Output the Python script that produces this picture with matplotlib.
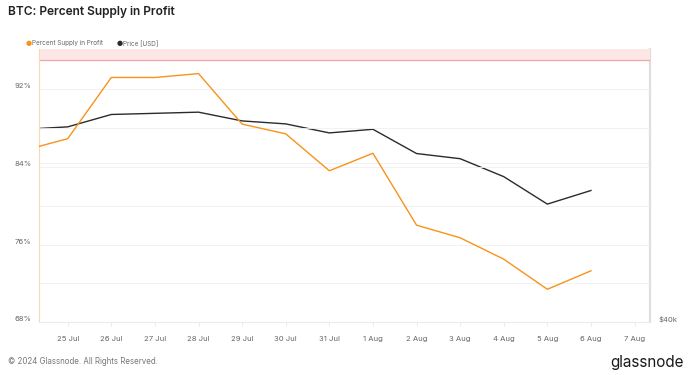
import pandas as pd
import matplotlib
matplotlib.use("Agg")
from matplotlib import pyplot as plt
from matplotlib.ticker import FixedLocator, NullLocator

plt.rcParams['font.family'] = ['Inter', 'DejaVu Sans']

dates = ["2024-07-24", "2024-07-25", "2024-07-26", "2024-07-27", "2024-07-28",
         "2024-07-29", "2024-07-30", "2024-07-31", "2024-08-01", "2024-08-02",
         "2024-08-03", "2024-08-04", "2024-08-05", "2024-08-06"]
supply_profit = [85.7, 86.9, 93.2, 93.2, 93.6, 88.4, 87.4, 83.6, 85.4,
                 78.0, 76.7, 74.5, 71.4, 73.3]
price_usd = [65300, 65700, 67800, 68000, 68200, 66700, 66200, 64700, 65300,
             61400, 60600, 57900, 54000, 55900]
tick_dates = ["2024-07-25", "2024-07-26", "2024-07-27", "2024-07-28",
              "2024-07-29", "2024-07-30", "2024-07-31", "2024-08-01",
              "2024-08-02", "2024-08-03", "2024-08-04", "2024-08-05",
              "2024-08-06", "2024-08-07"]
tick_labels = ["25 Jul", "26 Jul", "27 Jul", "28 Jul", "29 Jul", "30 Jul",
               "31 Jul", "1 Aug", "2 Aug", "3 Aug", "4 Aug", "5 Aug",
               "6 Aug", "7 Aug"]
pct_ticks = [68, 76, 84, 92]
pct_grid = [72, 76, 80, 84, 88, 92]

ORANGE = "#f7931a"
DARK = "#2b2b2b"
GREY = "#666666"

x = pd.to_datetime(dates)
xt = pd.to_datetime(tick_dates)

fig = plt.figure(figsize=(6.89, 3.75), dpi=100)
ax = fig.add_axes([0.0566, 0.1405, 0.8868, 0.728])
ax2 = ax.twinx()

ax.set_xlim(xt[0] - pd.Timedelta(hours=15.8), xt[-1] + pd.Timedelta(hours=8.5))
ax.set_ylim(68, 96.1)

# >95% zone
ax.axhspan(95, 96.1, color="#fde6e6", lw=0, zorder=0)
ax.axhline(95, color="#f4a3a3", lw=0.9, zorder=1)

for g in pct_grid:
    ax.axhline(g, color="#f0f0f0", lw=0.6, zorder=0)

ax2.set_yscale("log")
ax2.set_ylim(40000, 80000)
ax2.axhline(60000, color="#f0f0f0", lw=0.6, zorder=0)

ax.plot(x, supply_profit, color=ORANGE, lw=1.0, zorder=3)
ax2.plot(x, price_usd, color=DARK, lw=1.0, zorder=3)

ax.set_zorder(ax2.get_zorder() + 1)
ax.patch.set_visible(False)

ax.set_yticks(pct_ticks)
ax.set_yticklabels([f"{t}%" for t in pct_ticks])
ax.set_xticks(xt)
ax.set_xticklabels(tick_labels)
ax.tick_params(axis="x", length=3, width=0.6, color="#e6e6e6", labelsize=5.5,
               labelcolor=GREY, pad=7)
ax.tick_params(axis="y", length=0, labelsize=5.5, labelcolor=GREY, pad=5.5)
for lbl in ax.get_yticklabels():
    lbl.set_va("bottom")

ax2.yaxis.set_major_locator(FixedLocator([40000]))
ax2.yaxis.set_minor_locator(NullLocator())
ax2.set_yticklabels(["$40k"])
ax2.tick_params(axis="y", length=0, labelsize=5.5, labelcolor=GREY, pad=6.5)
for lbl in ax2.get_yticklabels():
    lbl.set_va("bottom")

for a in (ax, ax2):
    a.spines["top"].set_visible(False)
ax.spines["left"].set_color("#fbd9b0")
ax.spines["left"].set_linewidth(0.8)
ax.spines["bottom"].set_color("#ececec")
ax.spines["bottom"].set_linewidth(0.8)
ax.spines["right"].set_visible(False)
ax2.spines["left"].set_visible(False)
ax2.spines["bottom"].set_visible(False)
ax2.spines["right"].set_color("#dedede")
ax2.spines["right"].set_linewidth(1.6)

fig.text(0.012, 0.967, "BTC: Percent Supply in Profit", fontsize=8.6,
         weight="semibold", color="#222222", va="center", ha="left")

# legend
fig.text(0.037, 0.884, "\u25cf", color=ORANGE, fontsize=5, va="center", ha="left",
         family=["DejaVu Sans"])
fig.text(0.047, 0.884, "Percent Supply in Profit", color=GREY, fontsize=4.6,
         va="center", ha="left")
fig.text(0.169, 0.884, "\u25cf", color=DARK, fontsize=5, va="center", ha="left",
         family=["DejaVu Sans"])
fig.text(0.179, 0.884, "Price [USD]", color=GREY, fontsize=4.6,
         va="center", ha="left")

fig.text(0.012, 0.035, "\u00a9 2024 Glassnode. All Rights Reserved.", fontsize=5.7,
         color="#777777", va="center", ha="left")
fig.text(0.992, 0.033, "glassnode", fontsize=11, color="#1a1a1a",
         va="center", ha="right")

fig.savefig("out.png", dpi=100)
